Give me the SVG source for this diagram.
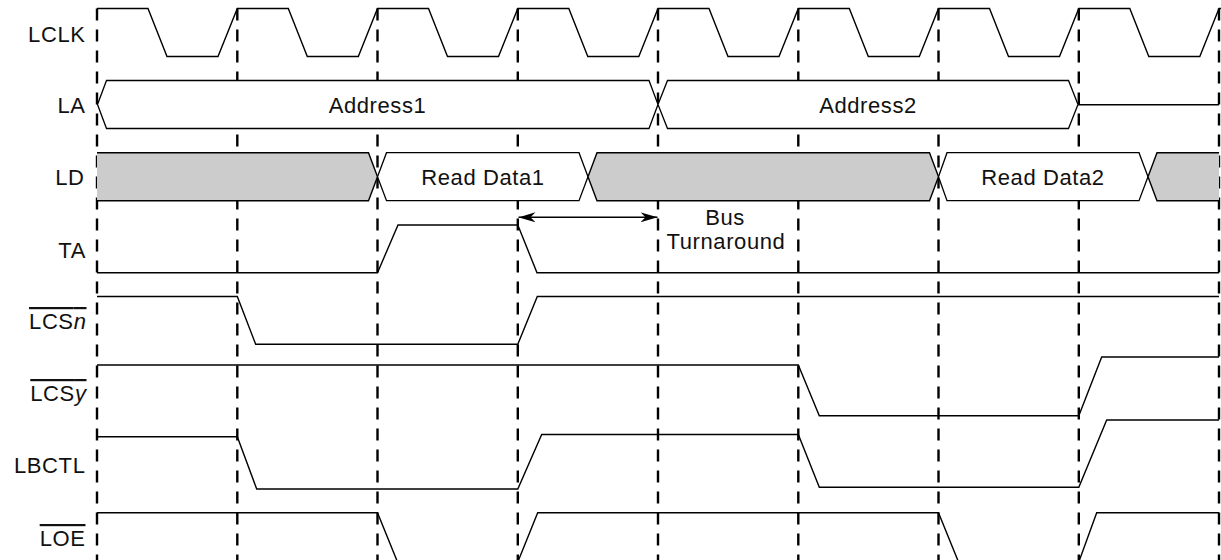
<svg xmlns="http://www.w3.org/2000/svg" width="1221" height="560" viewBox="0 0 1221 560">
<style>
text{font-family:"Liberation Sans",Arial,sans-serif;font-size:22px;fill:#111;letter-spacing:0.6px}
.lbl{text-anchor:end}
.mid{text-anchor:middle}
.sig{fill:none;stroke:#000;stroke-width:1.4;stroke-linejoin:miter}
.grid{stroke:#000;stroke-width:2.4;stroke-dasharray:12 9}
.busw{fill:#fff;stroke:#000;stroke-width:1.3}
.busg{fill:#ccc;stroke:none}
.edge{fill:none;stroke:#000;stroke-width:1.4}
.ov{text-decoration:overline}
</style>
<defs>
<marker id="ah" viewBox="0 0 17 10" refX="17" refY="5" markerWidth="17" markerHeight="10" markerUnits="userSpaceOnUse" orient="auto-start-reverse">
<path d="M0,0 L17,5 L0,10 L5,5 Z" fill="#000"/>
</marker>
</defs>
<rect width="1221" height="560" fill="#fff"/>
<g id="gridlines">
<line class="grid" x1="97" y1="8.5" x2="97" y2="560"/>
<line class="grid" x1="237.3" y1="8.5" x2="237.3" y2="560"/>
<line class="grid" x1="377.5" y1="8.5" x2="377.5" y2="560"/>
<line class="grid" x1="517.8" y1="8.5" x2="517.8" y2="560"/>
<line class="grid" x1="658" y1="8.5" x2="658" y2="560"/>
<line class="grid" x1="798.3" y1="8.5" x2="798.3" y2="560"/>
<line class="grid" x1="938.5" y1="8.5" x2="938.5" y2="560"/>
<line class="grid" x1="1078.8" y1="8.5" x2="1078.8" y2="560"/>
<line class="grid" x1="1219" y1="8.5" x2="1219" y2="560"/>
</g>
<g id="LCLK">
<text class="lbl" x="85.5" y="42">LCLK</text>
<path class="sig" d="M97,8.5 H148 L167,56.5 H218 L237.3,8.5 H288.3 L307.3,56.5 H358.3 L377.5,8.5 H428.5 L447.5,56.5 H498.5 L517.8,8.5 H568.8 L587.8,56.5 H638.8 L658,8.5 H709 L728,56.5 H779 L798.3,8.5 H849.3 L868.3,56.5 H919.3 L938.5,8.5 H989.5 L1008.5,56.5 H1059.5 L1078.8,8.5 H1129.8 L1148.8,56.5 H1199.8 L1219,8.5 H1221"/>
</g>
<g id="LA">
<text class="lbl" x="85.5" y="113">LA</text>
<polygon class="busw" points="97.5,104.5 106.5,80.5 649,80.5 658,104.5 649,128.5 106.5,128.5"/>
<polygon class="busw" points="658,104.5 667.5,80.5 1068.5,80.5 1078,104.5 1068.5,128.5 667.5,128.5"/>
<path class="sig" d="M1078,104.8 H1219"/>
<text class="mid" x="377.5" y="113">Address1</text>
<text class="mid" x="868" y="113">Address2</text>
</g>
<g id="LD">
<text class="lbl" x="84.5" y="185">LD</text>
<polygon class="busg" points="97,152.7 368.5,152.7 377.5,176.7 368.5,200.7 97,200.7"/>
<path class="edge" d="M97,152.7 H368.5 L377.5,176.7 L368.5,200.7 H97"/>
<polygon class="busw" points="377.5,176.7 386.5,152.7 579,152.7 588,176.7 579,200.7 386.5,200.7"/>
<polygon class="busg" points="588,176.7 597,152.7 929.5,152.7 938.5,176.7 929.5,200.7 597,200.7"/>
<path class="edge" d="M588,176.7 L597,152.7 H929.5 L938.5,176.7 L929.5,200.7 H597 Z"/>
<polygon class="busw" points="938.5,176.7 947,152.7 1139,152.7 1148,176.7 1139,200.7 947,200.7"/>
<polygon class="busg" points="1148,176.7 1157,152.7 1219,152.7 1219,200.7 1157,200.7"/>
<path class="edge" d="M1219,152.7 H1157 L1148,176.7 L1157,200.7 H1219"/>
<text class="mid" x="483" y="185">Read Data1</text>
<text class="mid" x="1043" y="185">Read Data2</text>
</g>
<g id="TA">
<text class="lbl" x="86" y="258">TA</text>
<path class="sig" d="M97,272.7 H377.5 L398,225 H517.8 L537,272.7 H1219"/>
</g>
<g id="LCSn">
<text class="lbl ov" x="86.5" y="329">LCS<tspan font-style="italic">n</tspan></text>
<path class="sig" d="M97,296.5 H237.3 L255.7,344.3 H517.8 L537.3,296.5 H1219"/>
</g>
<g id="LCSy">
<text class="lbl ov" x="86.5" y="401">LCS<tspan font-style="italic">y</tspan></text>
<path class="sig" d="M97,365 H798.3 L819.3,415.7 H1078.8 L1101.7,357 H1219"/>
</g>
<g id="LBCTL">
<text class="lbl" x="85.5" y="473">LBCTL</text>
<path class="sig" d="M97,436.7 H237.3 L256.7,489 H517.8 L541.7,434.5 H798.3 L819.3,487.3 H1078.8 L1106.7,420 H1219"/>
</g>
<g id="LOE">
<text class="lbl ov" x="85.5" y="546">LOE</text>
<path class="sig" d="M97,512.7 H377.5 L397.5,562 M517.8,562 L537.7,512.7 H938.5 L958.5,562 M1078.8,562 L1096.7,512.7 H1219"/>
</g>
<g id="connectors">
<line x1="518.5" y1="217.3" x2="657.5" y2="217.3" stroke="#000" stroke-width="1.6" marker-start="url(#ah)" marker-end="url(#ah)"/>
</g>
<g id="note">
<text class="mid" x="725" y="225">Bus</text>
<text class="mid" x="726" y="249">Turnaround</text>
</g>
</svg>
